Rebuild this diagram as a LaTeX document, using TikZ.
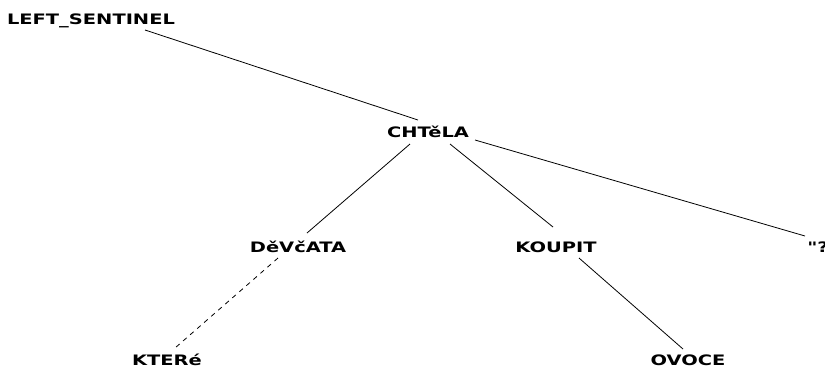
\documentclass[tikz,border=0pt]{standalone}
\usepackage{fontspec}
\newfontfamily\treefont{DejaVu Sans}[FakeStretch=1.35]
\tikzset{
  word/.style={anchor=base, inner sep=0pt, font=\treefont\bfseries\fontsize{10.8pt}{12pt}\selectfont},
  edge/.style={line width=0.6pt},
  weak/.style={edge, dash pattern=on 3.5pt off 3.5pt}
}
\begin{document}
\begin{tikzpicture}[x=0.75pt,y=-0.75pt]
\useasboundingbox (0,0) rectangle (825,369);
\node[word] (sentinel) at (91,24) {LEFT\_SENTINEL};
\node[word] (chtela) at (428,137) {CHTěLA};
\node[word] (devcata) at (298,252) {DěVčATA};
\node[word] (koupit) at (556,252) {KOUPIT};
\node[word, anchor=base west] (quote) at (807,252) {"?};
\node[word] (ktere) at (167,365) {KTERé};
\node[word] (ovoce) at (688,365) {OVOCE};
\draw[edge] ([shift={(54,6)}]sentinel.base) -- ([shift={(-10,-17)}]chtela.base);
\draw[edge] ([shift={(-18,7)}]chtela.base) -- ([shift={(9,-19)}]devcata.base);
\draw[edge] ([shift={(22,7)}]chtela.base) -- ([shift={(-3,-25)}]koupit.base);
\draw[edge] ([shift={(47,3)}]chtela.base) -- ([shift={(-2,-16)}]quote.base west);
\draw[edge] ([shift={(23,6)}]koupit.base) -- ([shift={(-5,-16)}]ovoce.base);
\draw[weak] ([shift={(-20,6)}]devcata.base) -- ([shift={(8,-17)}]ktere.base);
\end{tikzpicture}
\end{document}
